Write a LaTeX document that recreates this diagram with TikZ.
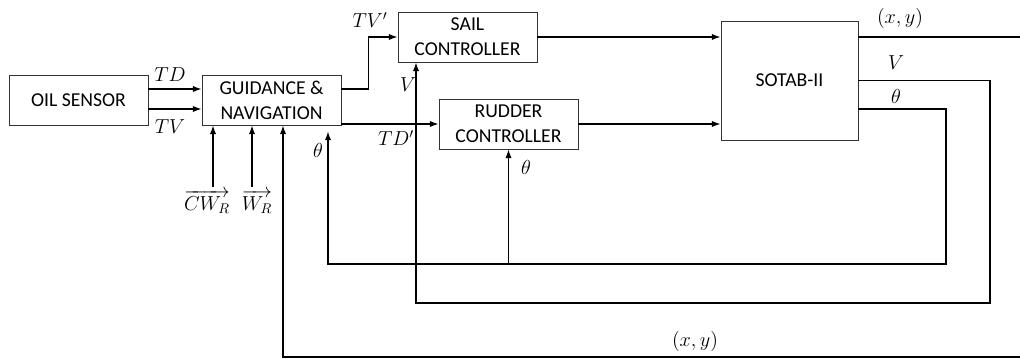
\documentclass[tikz,border=0pt]{standalone}
\usepackage{fontspec}
\setmainfont{Carlito}
\usetikzlibrary{arrows.meta}
\tikzset{
  blk/.style={draw=black!80,line width=0.6pt,align=center,inner sep=0pt,
    font=\fontsize{14}{17.8}\selectfont},
  sig/.style={line width=1pt},
  arr/.style={sig,-{Latex[length=2.2mm,width=1.6mm]}},
  lbl/.style={inner sep=0pt,font=\fontsize{14.5}{16}\selectfont}
}

\begin{document}
\begin{tikzpicture}[x=0.025cm,y=-0.025cm]
\path[use as bounding box] (0,0) rectangle (1020,359);
\node[blk,minimum width=3.475cm,minimum height=1.25cm] (oil) at (78.5,100) {OIL SENSOR};
\node[blk,minimum width=3.475cm,minimum height=1.25cm] (gn) at (271.5,100) {GUIDANCE \&\\NAVIGATION};
\node[blk,minimum width=3.475cm,minimum height=1.25cm] (sail) at (467.5,37) {SAIL\\CONTROLLER};
\node[blk,minimum width=3.475cm,minimum height=1.25cm] (rud) at (508.5,124) {RUDDER\\CONTROLLER};
\node[blk,minimum width=3.425cm,minimum height=2.975cm] (sotab) at (789.5,80.5) {SOTAB-II};
\coordinate (xyR) at (1020,37);
\coordinate (vR) at (990,303);
\coordinate (vL) at (416,303);
\coordinate (thR) at (946,264);
\coordinate (thL) at (328,264);
\coordinate (fbR) at (1020,357);
\coordinate (cwB) at (213,187);
\coordinate (wB) at (252,187);
\draw[arr] ([yshift=0.275cm]oil.east) -- ([yshift=0.275cm]gn.west);
\draw[arr] ([yshift=-0.225cm]oil.east) -- ([yshift=-0.225cm]gn.west);
\draw[arr] ([yshift=0.275cm]gn.east) -- ++(0.675cm,0) |- (sail.west);
\draw[arr] (gn.east |- rud.west) -- (rud.west);
\draw[arr] (sail.east) -- (sail.east -| sotab.west);
\draw[arr] (rud.east) -- (rud.east -| sotab.west);
\draw[sig] (sotab.east |- xyR) -- (xyR);
\draw[arr] (sotab.east) -| (vR) -- (vL) -- (vL |- sail.south);
\draw[arr,shorten >=0.15cm] ([yshift=-0.7125cm]sotab.east) -| (thR) -- (thL) -- (thL |- gn.south);
\draw[arr] (rud.south |- thL) -- (rud.south);
\draw[arr] (fbR) -| ([xshift=0.2875cm]gn.south);
\draw[arr] (cwB) -- (cwB |- gn.south);
\draw[arr] (wB) -- (wB |- gn.south);
\node[lbl] (lTD) at (170,75) {$TD$};
\node[lbl] (lTV) at (170,127) {$TV$};
\node[lbl] (lTVp) at (370,20) {$TV'$};
\node[lbl] (lTDp) at (396,138) {$TD'$};
\node[lbl] (lVs) at (408,85) {$V$};
\node[lbl] (lThg) at (318,150) {$\theta$};
\node[lbl] (lThr) at (526,167) {$\theta$};
\node[lbl] (lXYt) at (900,18) {$(x,y)$};
\node[lbl] (lVo) at (896,63) {$V$};
\node[lbl] (lTho) at (896,96) {$\theta$};
\node[lbl] (lXYb) at (695,341) {$(x,y)$};
\node[lbl,anchor=north] (lCW) at (207,190) {$\overrightarrow{CW_R}$};
\node[lbl,anchor=north] (lW) at (257,190) {$\overrightarrow{W_R}$};
\end{tikzpicture}
\end{document}
